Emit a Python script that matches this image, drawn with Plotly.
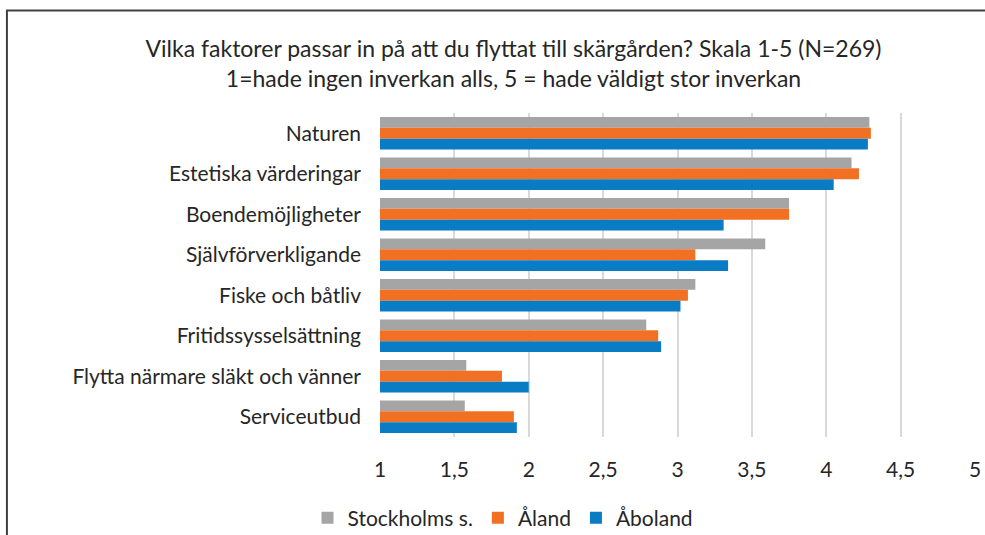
import plotly.graph_objects as go

categories = ["Naturen", "Estetiska värderingar", "Boendemöjligheter", "Självförverkligande",
              "Fiske och båtliv", "Fritidssysselsättning", "Flytta närmare släkt och vänner", "Serviceutbud"]
stockholm = [4.29, 4.17, 3.75, 3.59, 3.12, 2.79, 1.58, 1.57]
aland = [4.30, 4.22, 3.75, 3.12, 3.07, 2.87, 1.82, 1.90]
aboland = [4.28, 4.05, 3.31, 3.34, 3.02, 2.89, 2.00, 1.92]
series_names = ["Stockholms s.", "Åland", "Åboland"]
tick_vals = [1, 1.5, 2, 2.5, 3, 3.5, 4, 4.5, 5]
tick_text = ["1", "1,5", "2", "2,5", "3", "3,5", "4", "4,5", "5"]
title_lines = ["Vilka faktorer passar in på att du flyttat till skärgården? Skala 1-5 (N=269)",
               "1=hade ingen inverkan alls, 5 = hade väldigt stor inverkan"]

colors = ["#A5A5A5", "#F27024", "#0A7CC4"]
FONT = "Lato"
TXT = "#262626"

fig = go.Figure()
for name, vals, c in zip(series_names, [stockholm, aland, aboland], colors):
    fig.add_trace(go.Bar(y=categories, x=vals, orientation="h", name=name,
                         marker=dict(color=c, line=dict(width=0))))

fig.update_layout(
    width=985, height=535,
    paper_bgcolor="white", plot_bgcolor="white",
    margin=dict(l=380, r=10, t=113, b=98, autoexpand=False),
    barmode="group", bargap=0.2, bargroupgap=0,
    font=dict(family=FONT, color=TXT, size=21),
    title=dict(text="<br>".join(title_lines), x=513.5 / 985, xref="container", xanchor="center",
               y=1 - 57 / 535, yref="container", yanchor="middle",
               font=dict(size=23, family=FONT, color=TXT)),
    xaxis=dict(range=[1, 5], tickvals=tick_vals, ticktext=tick_text, showgrid=True,
               gridcolor="#D9D9D9", gridwidth=1.5, zeroline=False, showline=False,
               ticks="", tickfont=dict(size=21), ticklabelstandoff=18, automargin=False),
    yaxis=dict(autorange="reversed", showgrid=False, ticks="", showline=False,
               tickfont=dict(size=21), ticklabelstandoff=18, automargin=False),
    legend=dict(orientation="h", x=503 / 985, xref="container", xanchor="center",
                y=-0.25, yanchor="middle",
                font=dict(size=21), traceorder="normal", itemwidth=30),
    shapes=[dict(type="rect", xref="paper", yref="paper", x0=-0.627, x1=1.1, y0=-0.5, y1=1.316,
                 line=dict(color="#404040", width=2), fillcolor="rgba(0,0,0,0)", layer="below")],
)
fig.write_html("out.html", config={"displayModeBar": False},
               post_script="document.body.style.margin='0px';")
